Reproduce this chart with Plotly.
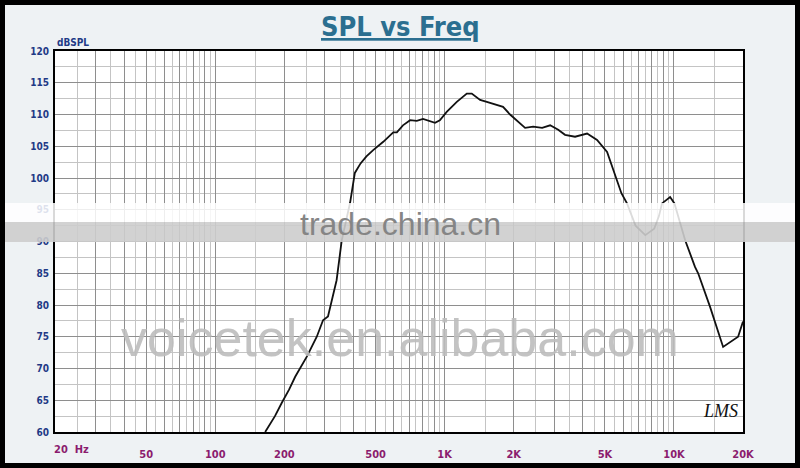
import plotly.graph_objects as go

# ---- data ----
freq_hz = [165, 182, 195, 210, 223, 251, 277, 295, 310, 338,
           356, 372, 387, 406, 430, 456, 488, 540, 597, 619,
           658, 707, 756, 805, 860, 908, 953, 1021, 1130, 1249,
           1313, 1428, 1527, 1700, 1798, 1929, 2090, 2243, 2432, 2662,
           2885, 3128, 3350, 3705, 4180, 4620, 5110, 5530, 5900, 6240,
           6800, 7500, 8200, 8600, 8870, 9620, 10050, 11190, 12350, 12750,
           14370, 16380, 19040, 20000]
spl_db = [60, 62.5, 64.6, 66.7, 68.7, 71.9, 75, 77.6, 78.2, 83.9,
          90.2, 93.5, 96.1, 100.8, 102.3, 103.4, 104.4, 105.7, 107.2, 107.2,
          108.3, 109.1, 109.0, 109.3, 109.0, 108.7, 109.1, 110.4, 112.0, 113.3,
          113.3, 112.3, 112.0, 111.5, 111.2, 110.0, 108.9, 107.9, 108.1, 107.9,
          108.3, 107.6, 106.8, 106.5, 107.0, 106.0, 104.1, 100.5, 97.6, 96.0,
          92.5, 91.0, 92.0, 94.0, 96.0, 97.0, 96.0, 90.2, 86.0, 85.0,
          79.7, 73.4, 75.0, 77.4]

x_label_vals = [50, 100, 200, 500, 1000, 2000, 5000, 10000, 20000]
x_label_text = ["50", "100", "200", "500", "1K", "2K", "5K", "10K", "20K"]
first_x_label = "20  Hz"
y_tick_vals = list(range(60, 121, 5))
title_text = "SPL vs Freq"
y_unit_text = "dBSPL"

# ---- grid values (axis configuration) ----
major_grid = []
minor_grid = []
for dec in [10, 100, 1000, 10000]:
    for m in range(2, 11):
        v = m * dec
        if 20 <= v <= 20000:
            major_grid.append(v)
    for m in [1.5, 2.5, 3.5, 4.5, 5.5, 6.5, 7.5, 8.5, 9.5]:
        v = m * dec
        if 20 < v < 20000:
            minor_grid.append(v)
major_grid = sorted(set(major_grid))
tick_text = ["<b>" + x_label_text[x_label_vals.index(v)] + "</b>" if v in x_label_vals else ""
             for v in major_grid]
y_tick_text = ["<b>%d</b>" % v for v in y_tick_vals]

NARROW = "Liberation Sans Narrow, Arial Narrow, DejaVu Sans Condensed, Liberation Sans, sans-serif"

fig = go.Figure()
fig.add_trace(go.Scatter(x=freq_hz, y=spl_db, mode="lines",
                         line=dict(color="#111111", width=1.8), showlegend=False))

W, H = 800, 468
L, R, T, B = 55, 57, 51, 36
pw, ph = W - L - R, H - T - B

def px(x):
    return (x - L) / pw

def py(y):
    return (H - B - y) / ph

fig.update_layout(
    width=W, height=H,
    margin=dict(l=L, r=R, t=T, b=B, autoexpand=False),
    paper_bgcolor="#eef2f4",
    plot_bgcolor="#ffffff",
    xaxis=dict(type="log", range=[1.30103, 4.30103], automargin=False,
               tickvals=major_grid, ticktext=tick_text,
               showgrid=True, gridcolor="#8e8e8e", gridwidth=1,
               minor=dict(tickvals=minor_grid, showgrid=True, gridcolor="#c4c4c4", gridwidth=1),
               showline=True, linecolor="#000000", linewidth=2, mirror=True,
               ticks="", ticklabelstandoff=11,
               tickfont=dict(family=NARROW, size=11, color="#8b1c6e"),
               zeroline=False),
    yaxis=dict(range=[60, 120], automargin=False,
               tickvals=y_tick_vals, ticktext=y_tick_text,
               showgrid=True, gridcolor="#8e8e8e", gridwidth=1,
               minor=dict(dtick=2.5, showgrid=True, gridcolor="#c4c4c4", gridwidth=1),
               showline=True, linecolor="#000000", linewidth=2, mirror=True,
               ticks="", ticklabelstandoff=2,
               tickfont=dict(family=NARROW, size=10, color="#1f3a86"),
               zeroline=False),
    font=dict(family=NARROW),
)

annotations = [
    dict(text="<b><u>" + title_text + "</u></b>", xref="paper", yref="paper",
         x=px(400), y=py(27), xanchor="center", yanchor="middle", showarrow=False,
         font=dict(family=NARROW, size=27, color="#2b6f90")),
    dict(text="<b>" + y_unit_text + "</b>", xref="paper", yref="paper",
         x=px(55), y=py(43), xanchor="left", yanchor="middle", showarrow=False,
         font=dict(family=NARROW, size=10, color="#1f3a86")),
    dict(text="<b>" + first_x_label + "</b>", xref="paper", yref="paper",
         x=px(52), y=py(450), xanchor="left", yanchor="middle", showarrow=False,
         font=dict(family=NARROW, size=11, color="#8b1c6e")),
    dict(text="<i>LMS</i>", xref="paper", yref="paper",
         x=px(720), y=py(411), xanchor="center", yanchor="middle", showarrow=False,
         font=dict(family="Liberation Serif, serif", size=18, color="#111111")),
    dict(text="voicetek.en.alibaba.com", xref="paper", yref="paper",
         x=px(400), y=py(338), xanchor="center", yanchor="middle", showarrow=False,
         opacity=0.9,
         font=dict(family="Liberation Sans, Arial, sans-serif", size=52, color="#bdbdbd")),
    dict(text="trade.china.cn", xref="paper", yref="paper",
         x=px(400), y=py(224), xanchor="center", yanchor="middle", showarrow=False,
         font=dict(family="Liberation Sans, Arial, sans-serif", size=32, color="#858585")),
]
fig.update_layout(annotations=annotations)

def band(x0, x1, y0, y1, color):
    return dict(type="rect", xref="paper", yref="paper", layer="above",
                x0=px(x0), x1=px(x1), y0=py(y1), y1=py(y0),
                fillcolor=color, line=dict(width=0))

shapes = [
    band(0, 800, 203, 222, "rgba(255,255,255,0.85)"),
    band(0, 800, 222, 242, "rgba(205,205,205,0.9)"),
]
fig.update_layout(shapes=shapes)

frame_js = (
    "document.body.style.margin='0';"
    "document.body.style.overflow='hidden';"
    "var fr=document.createElement('div');"
    "fr.style.cssText='position:fixed;left:0;top:0;width:800px;height:468px;"
    "box-sizing:border-box;border:5px solid #000;pointer-events:none;z-index:9999;';"
    "document.body.appendChild(fr);"
)

fig.write_html("out.html", config={"displayModeBar": False}, post_script=frame_js)
